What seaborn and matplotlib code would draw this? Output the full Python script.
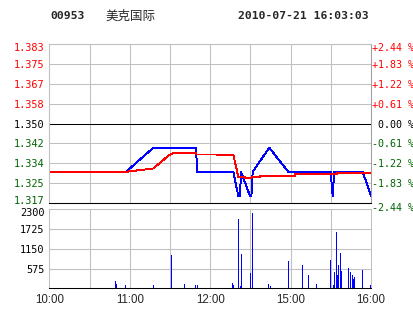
import matplotlib
matplotlib.use("Agg")
import matplotlib.pyplot as plt
import matplotlib.transforms as mtransforms
import seaborn as sns
import pandas as pd

# ---------------- data ----------------
code = "00953"
name = "美克国际"
stamp = "2010-07-21 16:03:03"
base_price = 1.350

# minutes since 10:00 on a compressed trading axis (0..240)
price_minutes = [0, 57.2, 77.6, 109.4, 110.4, 137.3, 141.0, 142.3, 143.0, 149.7,
                 150.8, 151.7, 164.1, 178.3, 209.9, 211.4, 212.6, 233.8, 240]
price_values = [1.33, 1.33, 1.34, 1.34, 1.33, 1.33, 1.32, 1.32, 1.33, 1.32,
                1.32, 1.33, 1.34, 1.33, 1.33, 1.32, 1.33, 1.33, 1.32]

avg_minutes = [0, 57.2, 77.6, 89.5, 92.3, 109.4, 109.4, 124.9, 124.9, 137.3,
               141.0, 146.0, 146.0, 151.0, 151.0, 157.2, 157.2, 183.3, 183.3,
               214.4, 214.4, 240]
avg_values = [1.3300, 1.3300, 1.3314, 1.3370, 1.3377, 1.3377, 1.3372, 1.3372,
              1.3370, 1.3370, 1.3280, 1.3280, 1.3276, 1.3276, 1.3278, 1.3278,
              1.3284, 1.3284, 1.3290, 1.3290, 1.3294, 1.3294]

vol_minutes = [49.2, 50.0, 56.7, 77.6, 90.8, 100.7, 108.9, 110.4, 136.5, 137.3,
               141.0, 142.5, 143.2, 150.0, 151.4, 163.4, 164.9, 178.3, 188.7,
               193.2, 199.2, 209.6, 211.9, 212.6, 214.1, 214.9, 215.6, 217.1,
               217.8, 223.1, 224.6, 226.0, 226.8, 227.5, 233.5, 239.5]
vol_values = [205, 117, 88, 88, 965, 117, 88, 88, 146, 88,
              2017, 58, 994, 439, 2193, 117, 58, 789, 672,
              380, 117, 819, 88, 468, 1637, 380, 672, 1023,
              497, 585, 468, 380, 263, 322, 526, 88]

left_labels = ["1.317", "1.325", "1.334", "1.342", "1.350",
               "1.358", "1.367", "1.375", "1.383"]
right_labels = ["-2.44 %", "-1.83 %", "-1.22 %", "-0.61 %", " 0.00 %",
                "+0.61 %", "+1.22 %", "+1.83 %", "+2.44 %"]
pct_steps = [-4, -3, -2, -1, 0, 1, 2, 3, 4]
pct_unit = 0.0061

vol_ticks = [575, 1150, 1725, 2300]
vol_labels = ["575", "1150", "1725", "2300"]

time_ticks = [0, 60, 120, 180, 240]
time_labels = ["10:00", "11:00", "12:00", "15:00", "16:00"]

# ---------------- style ----------------
sns.set_theme(style="white")
plt.rcParams["font.family"] = ["DejaVu Sans Mono", "Noto Sans CJK SC"]

RED = "#FF0000"
GREEN = "#006400"
GRID = "#C0C0C0"
LW = 0.75
DLW = 0.68

fig = plt.figure(figsize=(4.14, 3.14), dpi=100)
fig.patch.set_facecolor("white")

L = 49.3 / 414
W = 321.7 / 414
ax = fig.add_axes([L, 1 - 203 / 314, W, (203 - 44.3) / 314])
axv = fig.add_axes([L, 1 - 288.3 / 314, W, (288.3 - 209.3) / 314])


def shift(label, dy_px):
    label.set_transform(label.get_transform() +
                        mtransforms.ScaledTranslation(0, dy_px / 100.0, fig.dpi_scale_trans))


# ---------------- price panel ----------------
levels = [base_price * (1 + k * pct_unit) for k in pct_steps]
ax.set_xlim(0, 240)
ax.set_ylim(levels[0], levels[-1])
for x in range(30, 240, 30):
    ax.axvline(x, color=GRID, lw=LW, zorder=1)
for k, lv in zip(pct_steps, levels):
    if k == 0:
        ax.axhline(lv, color="black", lw=LW, zorder=2)
    elif abs(k) < 4:
        ax.axhline(lv, color=GRID, lw=LW, zorder=1)

df_p = pd.DataFrame({"t": price_minutes, "p": price_values})
df_a = pd.DataFrame({"t": avg_minutes, "p": avg_values})
sns.lineplot(data=df_p, x="t", y="p", ax=ax, color="#0000FF", lw=DLW,
             estimator=None, sort=False, zorder=3, antialiased=False)
sns.lineplot(data=df_a, x="t", y="p", ax=ax, color=RED, lw=DLW,
             estimator=None, sort=False, zorder=4, antialiased=False)

ax.set_xlabel("")
ax.set_ylabel("")
ax.set_xticks([])
ax.set_yticks(levels)
ax.set_yticklabels(left_labels)
ax.tick_params(axis="y", length=0, pad=3.5, labelsize=7.4)
for k, t in zip(pct_steps, ax.get_yticklabels()):
    t.set_color(RED if k > 0 else ("black" if k == 0 else GREEN))

ax2 = ax.twinx()
ax2.set_ylim(levels[0], levels[-1])
ax2.set_yticks(levels)
ax2.set_yticklabels(right_labels)
ax2.tick_params(axis="y", length=0, pad=0.8, labelsize=7.2)
for k, t in zip(pct_steps, ax2.get_yticklabels()):
    t.set_color(RED if k > 0 else ("black" if k == 0 else GREEN))

lt = ax.get_yticklabels()
rt = ax2.get_yticklabels()
shift(lt[0], 3)
shift(lt[-1], -3)
shift(rt[0], -4)
shift(rt[-1], -3)

for a in (ax, ax2):
    a.spines["left"].set_color(GRID)
    a.spines["top"].set_color(GRID)
    a.spines["right"].set_color("#A0A0A0")
    a.spines["bottom"].set_color("black")
    for s in a.spines.values():
        s.set_linewidth(LW)

# ---------------- volume panel ----------------
axv.set_xlim(0, 240)
axv.set_ylim(0, 2300)
for x in range(30, 240, 30):
    axv.axvline(x, color=GRID, lw=LW, zorder=1)
for v in vol_ticks[:-1]:
    axv.axhline(v, color=GRID, lw=LW, zorder=1)
axv.vlines(vol_minutes, 0, vol_values, color="#0000FF", lw=DLW, zorder=3,
           antialiased=False)
axv.set_yticks(vol_ticks)
axv.set_yticklabels(vol_labels)
axv.tick_params(axis="y", length=0, pad=3.5, labelsize=7.4, labelcolor="black")
axv.set_xticks(time_ticks)
axv.set_xticklabels(time_labels, fontfamily="Liberation Sans", fontsize=8.3)
axv.tick_params(axis="x", length=0, pad=4)
shift(axv.get_yticklabels()[-1], -3)
for side in ("left", "top", "right"):
    axv.spines[side].set_color(GRID)
axv.spines["bottom"].set_color("black")
for s in axv.spines.values():
    s.set_linewidth(LW)

# ---------------- header ----------------
fig.text(50 / 414, 1 - 16 / 314, code, fontsize=8.2, fontweight="bold",
         family=["DejaVu Sans Mono"], va="center", ha="left")
fig.text(105 / 414, 1 - 16 / 314, name, fontsize=9, family=["Noto Sans CJK SC"],
         va="center", ha="left")
fig.text(238 / 414, 1 - 16 / 314, stamp, fontsize=8.2, fontweight="bold",
         family=["DejaVu Sans Mono"], va="center", ha="left")

fig.savefig("out.png", dpi=100, facecolor="white")
